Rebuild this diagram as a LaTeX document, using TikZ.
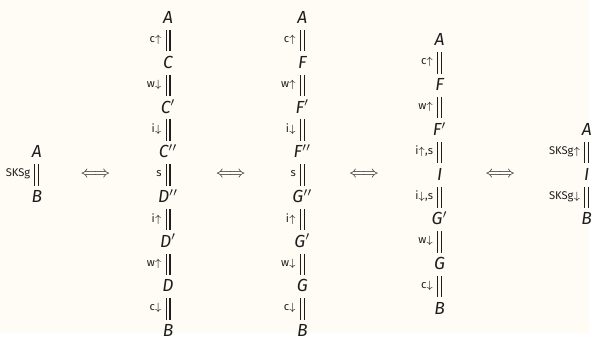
\documentclass[tikz,border=0pt]{standalone}
\usepackage{fontspec}
\setmainfont{Fira Sans}
\usepackage{tikz}
\usetikzlibrary{positioning}
\definecolor{paper}{RGB}{255,252,246}
\definecolor{ink}{RGB}{30,30,30}
\newcommand{\prm}{$'$}
\newcommand{\pprm}{$''$}

\begin{document}
\begin{tikzpicture}[
    x=0.02cm, y=-0.02cm,
    term/.style={inner sep=0pt, text height=7pt, text depth=0pt, font=\itshape, text=ink},
    eqline/.style={double=paper, double distance=1.6pt, line width=0.65pt, draw=ink,
                   shorten <=3.5pt, shorten >=2.5pt},
    rulelab/.style={left, inner sep=0pt, xshift=-3.4pt, font=\fontsize{6.4}{7}\selectfont, text=ink},
    iff/.style={inner sep=0pt, font=\small, text=ink},
    node distance=0.9cm, on grid
]

\fill[paper] (0,0) rectangle (592,335);

% first column
\node[term] (a1) at (37,152.5) {A};
\node[term, below=of a1] (b1) {B};
\draw[eqline] (a1) -- node[rulelab] {SKSg} (b1);

\node[iff] (iff1) at (96,176) {$\Longleftrightarrow$};

% second column
\node[term] (a2) at (169,17.5) {A};
\node[term, below=of a2] (c2) {C};
\node[term, below=of c2] (c2p) {C\prm};
\node[term, below=of c2p] (c2pp) {C\pprm};
\node[term, below=of c2pp] (d2pp) {D\pprm};
\node[term, below=of d2pp] (d2p) {D\prm};
\node[term, below=of d2p] (d2) {D};
\node[term, below=of d2] (b2) {B};

\draw[eqline] (a2) -- node[rulelab] {c$\uparrow$} (c2);
\draw[eqline] (c2) -- node[rulelab] {w$\downarrow$} (c2p);
\draw[eqline] (c2p) -- node[rulelab] {i$\downarrow$} (c2pp);
\draw[eqline] (c2pp) -- node[rulelab] {s} (d2pp);
\draw[eqline] (d2pp) -- node[rulelab] {i$\uparrow$} (d2p);
\draw[eqline] (d2p) -- node[rulelab] {w$\uparrow$} (d2);
\draw[eqline] (d2) -- node[rulelab] {c$\downarrow$} (b2);

\node[iff] (iff2) at (232,176) {$\Longleftrightarrow$};

% third column
\node[term] (a3) at (304,17.5) {A};
\node[term, below=of a3] (f3) {F};
\node[term, below=of f3] (f3p) {F\prm};
\node[term, below=of f3p] (f3pp) {F\pprm};
\node[term, below=of f3pp] (g3pp) {G\pprm};
\node[term, below=of g3pp] (g3p) {G\prm};
\node[term, below=of g3p] (g3) {G};
\node[term, below=of g3] (b3) {B};

\draw[eqline] (a3) -- node[rulelab] {c$\uparrow$} (f3);
\draw[eqline] (f3) -- node[rulelab] {w$\uparrow$} (f3p);
\draw[eqline] (f3p) -- node[rulelab] {i$\downarrow$} (f3pp);
\draw[eqline] (f3pp) -- node[rulelab] {s} (g3pp);
\draw[eqline] (g3pp) -- node[rulelab] {i$\uparrow$} (g3p);
\draw[eqline] (g3p) -- node[rulelab] {w$\downarrow$} (g3);
\draw[eqline] (g3) -- node[rulelab] {c$\downarrow$} (b3);

\node[iff] (iff3) at (366,176) {$\Longleftrightarrow$};

% fourth column
\node[term] (a4) at (442,40) {A};
\node[term, below=of a4] (f4) {F};
\node[term, below=of f4] (f4p) {F\prm};
\node[term, below=of f4p] (i4) {I};
\node[term, below=of i4] (g4p) {G\prm};
\node[term, below=of g4p] (g4) {G};
\node[term, below=of g4] (b4) {B};

\draw[eqline] (a4) -- node[rulelab] {c$\uparrow$} (f4);
\draw[eqline] (f4) -- node[rulelab] {w$\uparrow$} (f4p);
\draw[eqline] (f4p) -- node[rulelab] {i$\uparrow$,s} (i4);
\draw[eqline] (i4) -- node[rulelab] {i$\downarrow$,s} (g4p);
\draw[eqline] (g4p) -- node[rulelab] {w$\downarrow$} (g4);
\draw[eqline] (g4) -- node[rulelab] {c$\downarrow$} (b4);

\node[iff] (iff4) at (503,176) {$\Longleftrightarrow$};

% fifth column
\node[term] (a5) at (590,130) {A};
\node[term, below=of a5] (i5) {I};
\node[term, below=of i5] (b5) {B};

\draw[eqline] (a5) -- node[rulelab] {SKSg$\uparrow$} (i5);
\draw[eqline] (i5) -- node[rulelab] {SKSg$\downarrow$} (b5);

\useasboundingbox (0,0) rectangle (592,335);
\end{tikzpicture}
\end{document}
